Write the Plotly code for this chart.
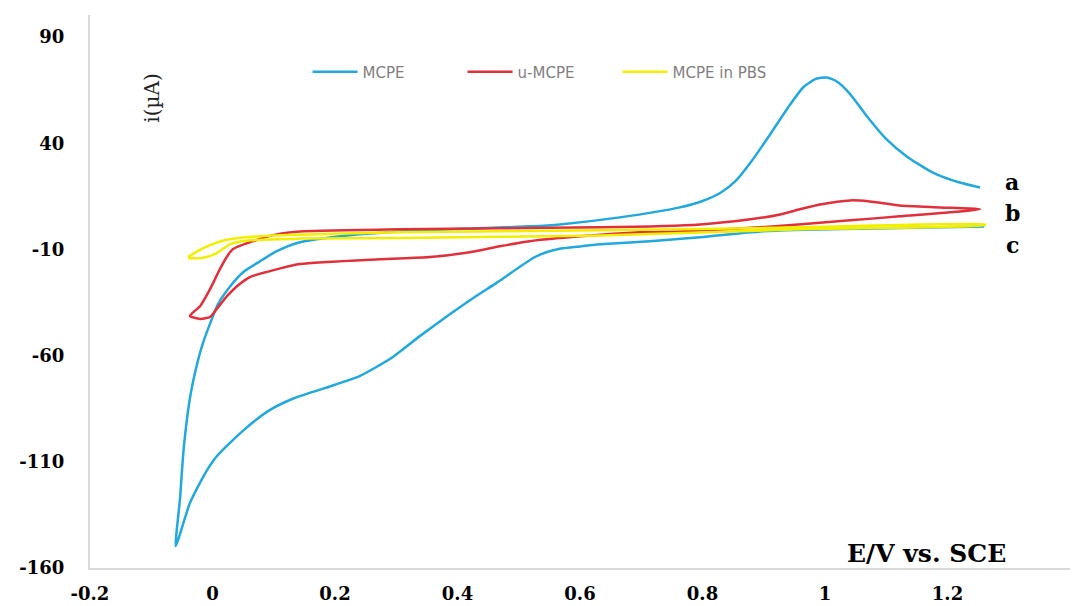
import plotly.graph_objects as go

# ---- data (E in V, i in µA) ----
mcpe_E = [1.26, 1.10, 0.95, 0.894, 0.796, 0.714, 0.633, 0.600, 0.565, 0.545, 0.525, 0.500, 0.465,
          0.430, 0.388, 0.339, 0.290, 0.241, 0.200, 0.131, 0.092, 0.050, 0.007, -0.012, -0.037,
          -0.060,
          -0.053, -0.047, -0.037, -0.027, -0.016, -0.001, 0.009, 0.029, 0.050, 0.078, 0.105,
          0.143, 0.224, 0.306, 0.437, 0.518, 0.567, 0.665, 0.763, 0.800, 0.830, 0.855, 0.880,
          0.910, 0.940, 0.965, 0.985, 1.003, 1.020, 1.040, 1.069, 1.101, 1.134, 1.176, 1.220, 1.253]
mcpe_i = [0.8, 0.0, -0.8, -1.5, -4.2, -6.1, -7.6, -8.6, -9.8, -11.3, -13.8, -18.5, -25.5,
          -32.0, -40.4, -50.7, -61.5, -69.5, -73.7, -80.3, -85.9, -95.3, -107.4, -115.4, -129.5,
          -149.7,
          -127.1, -103.7, -80.3, -66.2, -54.5, -42.7, -35.7, -27.3, -20.7, -15.5, -10.8,
          -6.6, -3.3, -1.5, 0.0, 0.9, 1.8, 5.1, 9.8, 12.8, 16.8, 22.5, 31.5,
          44.0, 57.0, 66.5, 70.3, 71.0, 69.0, 63.5, 52.5, 41.7, 33.7, 26.2, 21.5, 19.2]

umcpe_E = [-0.037, -0.020, -0.004, 0.012, 0.024, 0.033, 0.066, 0.105, 0.143, 0.306, 0.469,
           0.633, 0.796, 0.878, 0.927, 0.959, 0.992, 1.041, 1.073, 1.122, 1.188, 1.253,
           1.122, 1.041, 0.894, 0.763, 0.698, 0.600, 0.518, 0.469, 0.420, 0.355, 0.273,
           0.143, 0.094, 0.061, 0.040, 0.024, 0.007, -0.004, -0.020, -0.037]
umcpe_i = [-41.3, -36.6, -28.7, -19.3, -13.2, -9.9, -6.1, -2.9, -1.5, -0.5, 0.0,
           0.4, 1.8, 4.2, 6.5, 8.9, 11.2, 13.1, 12.6, 10.7, 9.8, 8.9,
           5.6, 3.7, 0.4, -1.5, -1.9, -3.8, -6.1, -8.5, -11.3, -13.6, -14.6,
           -16.9, -20.2, -23.0, -27.3, -31.9, -38.0, -41.8, -42.7, -41.3]

pbs_E = [-0.040, -0.024, -0.004, 0.020, 0.053, 0.110, 0.306, 0.633, 0.959, 1.261,
         1.261, 0.959, 0.633, 0.306, 0.143, 0.061, 0.029, 0.004, -0.020, -0.040]
pbs_i = [-13.6, -10.8, -8.0, -5.7, -4.3, -3.3, -1.9, -1.0, 0.4, 1.8,
         1.4, -0.5, -3.4, -4.6, -4.9, -5.7, -7.5, -12.2, -14.1, -14.1]

x_ticks = [-0.2, 0, 0.2, 0.4, 0.6, 0.8, 1, 1.2, 1.4]
y_ticks = [-160, -110, -60, -10, 40, 90]
series_names = ["MCPE", "u-MCPE", "MCPE in PBS"]
curve_labels = ["a", "b", "c"]

BLUE = "#22a8dc"
RED = "#e0303c"
YELLOW = "#f2ee00"
SERIF = "DejaVu Serif"

fig = go.Figure()
for name, xs, ys, col in [(series_names[0], mcpe_E, mcpe_i, BLUE),
                          (series_names[1], umcpe_E, umcpe_i, RED),
                          (series_names[2], pbs_E, pbs_i, YELLOW)]:
    fig.add_trace(go.Scatter(x=xs, y=ys, mode="lines", name=name,
                             line=dict(color=col, width=2.5, shape="spline", smoothing=0.6)))

fig.update_layout(
    width=1083, height=606,
    margin=dict(l=90, r=13, t=15, b=38),
    paper_bgcolor="white", plot_bgcolor="white",
    showlegend=True,
    legend=dict(orientation="h", x=0.222, xanchor="left", y=0.897, yanchor="middle",
                font=dict(family="DejaVu Sans", size=15, color="#7f7f7f"),
                itemwidth=45, entrywidth=95, bgcolor="rgba(0,0,0,0)"),
    xaxis=dict(range=[-0.2, 1.4], tickvals=x_ticks, ticktext=[f"{v:g}" for v in x_ticks],
               showgrid=False, zeroline=False, showline=True, linecolor="#d9d9d9", linewidth=2,
               ticks="", ticklabelstandoff=8, automargin=False,
               tickfont=dict(family=SERIF, size=18, color="black", weight="bold")),
    yaxis=dict(range=[-160, 100.4], tickvals=y_ticks, ticktext=[str(v) for v in y_ticks],
               showgrid=False, zeroline=False, showline=True, linecolor="#d9d9d9", linewidth=2,
               ticks="", ticklabelstandoff=20, automargin=False,
               tickfont=dict(family=SERIF, size=18, color="black", weight="bold")),
)

# axis titles placed as in the reference
fig.add_annotation(xref="paper", yref="paper", x=0.063, y=0.85, text="i(µA)",
                   textangle=-90, showarrow=False, xanchor="center", yanchor="middle",
                   font=dict(family=SERIF, size=20, color="#222222"))
fig.add_annotation(xref="paper", yref="paper", x=0.854, y=0.027, text="<b>E/V vs. SCE</b>",
                   showarrow=False, xanchor="center", yanchor="middle",
                   font=dict(family=SERIF, size=25, color="black"))
for lab, yp in zip(curve_labels, [0.698, 0.642, 0.584]):
    fig.add_annotation(xref="paper", yref="paper", x=0.941, y=yp, text=f"<b>{lab}</b>",
                       showarrow=False, xanchor="center", yanchor="middle",
                       font=dict(family=SERIF, size=22, color="black"))

fig.write_html("out.html")
